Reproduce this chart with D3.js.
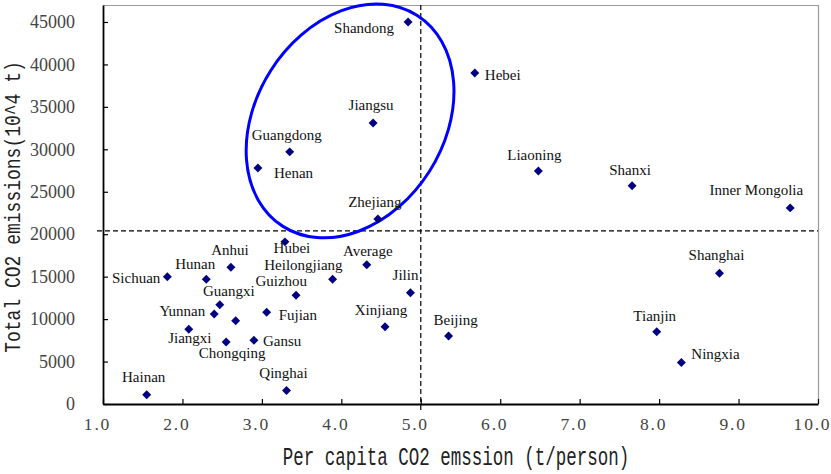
<!DOCTYPE html>
<html>
<head>
<meta charset="utf-8">
<script src="https://cdn.jsdelivr.net/npm/d3@7"></script>
<style>
  html, body { margin: 0; padding: 0; background: #fff; }
  svg { display: block; }
</style>
</head>
<body>
<svg id="chart" width="831" height="474"></svg>
<script>
// Provinces: per capita CO2 emission (t/person) and total CO2 emissions (10^4 t)
const provinces = ["Shandong", "Hebei", "Jiangsu", "Guangdong", "Henan", "Zhejiang",
  "Liaoning", "Shanxi", "Inner Mongolia", "Hubei", "Anhui", "Average", "Hunan",
  "Sichuan", "Heilongjiang", "Jilin", "Guizhou", "Guangxi", "Yunnan", "Shaanxi",
  "Fujian", "Xinjiang", "Jiangxi", "Chongqing", "Gansu", "Hainan", "Qinghai",
  "Beijing", "Tianjin", "Ningxia", "Shanghai"];
const perCapita = [4.84, 5.68, 4.40, 3.35, 2.95, 4.46,
  6.48, 7.66, 9.65, 3.29, 2.61, 4.32, 2.30,
  1.81, 3.89, 4.87, 3.43, 2.47, 2.40, 2.67,
  3.06, 4.55, 2.08, 2.55, 2.90, 1.55, 3.31,
  5.35, 7.97, 8.28, 8.76];
const totalEmission = [45000, 39000, 33100, 29700, 27800, 21800,
  27450, 25700, 23100, 19100, 16100, 16400, 14700,
  15000, 14700, 13100, 12800, 11700, 10600, 9800,
  10800, 9100, 8800, 7300, 7500, 1100, 1600,
  8000, 8500, 4900, 15400];

// Axis ticks
const xTicks = [1, 2, 3, 4, 5, 6, 7, 8, 9, 10];
const yTicks = [0, 5000, 10000, 15000, 20000, 25000, 30000, 35000, 40000, 45000];

// Quadrant reference values
const xRef = 5.0;
const yRef = 20400;

// Highlighted group centre (data units)
const groupCentre = [4.11, 33340];

// Label placement relative to each marker: [dx, dy, anchor]; null = no label
const labelOffsets = {
  "Shandong": [-14, 11, "end"], "Hebei": [10, 7, "start"], "Jiangsu": [-2, -13, "middle"],
  "Guangdong": [-3, -12, "middle"], "Henan": [16, 10, "start"], "Zhejiang": [-3, -12, "middle"],
  "Liaoning": [-4, -11, "middle"], "Shanxi": [-2, -11, "middle"], "Inner Mongolia": [13, -13, "end"],
  "Hubei": [7, 11, "middle"], "Anhui": [-1, -12, "middle"], "Average": [1, -9, "middle"],
  "Hunan": [-11, -10, "middle"], "Sichuan": [-7, 6, "end"], "Heilongjiang": [10, -9, "end"],
  "Jilin": [8, -13, "end"], "Guizhou": [11, -9, "end"], "Guangxi": [9, -9, "middle"],
  "Yunnan": [-9, 2, "end"], "Shaanxi": null, "Fujian": [12, 8, "start"],
  "Xinjiang": [-4, -12, "middle"], "Jiangxi": [1, 14, "middle"], "Chongqing": [6, 16, "middle"],
  "Gansu": [9, 6, "start"], "Hainan": [-3, -13, "middle"], "Qinghai": [-3, -12, "middle"],
  "Beijing": [7, -11, "middle"], "Tianjin": [-2, -11, "middle"], "Ningxia": [10, -3, "start"],
  "Shanghai": [-3, -13, "middle"]
};

const svg = d3.select("#chart");
const plot = { left: 103, right: 818, top: 5, bottom: 404 };

const x = d3.scaleLinear().domain([1, 10]).range([plot.left, plot.right]);
const y = d3.scaleLinear().domain([0, 47000]).range([plot.bottom, plot.top]);

// Frame: light top/right borders
svg.append("line").attr("x1", plot.left).attr("x2", plot.right)
  .attr("y1", plot.top + 0.5).attr("y2", plot.top + 0.5)
  .attr("stroke", "#999").attr("stroke-width", 1.2);
svg.append("line").attr("x1", plot.right + 0.5).attr("x2", plot.right + 0.5)
  .attr("y1", plot.top).attr("y2", plot.bottom)
  .attr("stroke", "#999").attr("stroke-width", 1.2);

// Reference lines
svg.append("line")
  .attr("x1", plot.left - 6).attr("x2", plot.right)
  .attr("y1", y(yRef)).attr("y2", y(yRef))
  .attr("stroke", "#000").attr("stroke-width", 1.2).attr("stroke-dasharray", "5,3");
svg.append("line")
  .attr("x1", x(xRef)).attr("x2", x(xRef))
  .attr("y1", plot.top).attr("y2", plot.bottom + 6)
  .attr("stroke", "#000").attr("stroke-width", 1.2).attr("stroke-dasharray", "5,3");

// Y axis (ticks pointing inward)
const yAxis = d3.axisLeft(y).tickValues(yTicks).tickSizeInner(-5).tickSizeOuter(0)
  .tickPadding(28).tickFormat(d3.format("d"));
const gy = svg.append("g").attr("transform", `translate(${plot.left},0)`).call(yAxis);
gy.select(".domain").attr("stroke", "#000").attr("stroke-width", 1.8);
gy.selectAll(".tick line").attr("stroke", "#000").attr("stroke-width", 1.2);
gy.selectAll(".tick text")
  .attr("font-family", "'Liberation Serif', serif").attr("font-size", 18)
  .attr("fill", "#444");

// X axis (ticks pointing inward)
const xAxis = d3.axisBottom(x).tickValues(xTicks).tickSizeInner(-5).tickSizeOuter(0)
  .tickPadding(14).tickFormat(d3.format(".1f"));
const gx = svg.append("g").attr("transform", `translate(0,${plot.bottom})`).call(xAxis);
gx.select(".domain").attr("stroke", "#000").attr("stroke-width", 1.8);
gx.selectAll(".tick line").attr("stroke", "#000").attr("stroke-width", 1.2);
gx.selectAll(".tick text")
  .attr("font-family", "'Liberation Serif', serif").attr("font-size", 17.5)
  .attr("letter-spacing", "1.8px").attr("dx", -6)
  .attr("fill", "#444");

// Axis titles
svg.append("text")
  .attr("transform", `translate(456,465) scale(1,1.45)`)
  .attr("text-anchor", "middle")
  .attr("font-family", "'Liberation Mono', monospace").attr("font-size", 17.5)
  .attr("fill", "#222")
  .text("Per capita CO2 emssion (t/person)");
svg.append("text")
  .attr("transform", `translate(20,207) rotate(-90) scale(1,1.2)`)
  .attr("text-anchor", "middle")
  .attr("font-family", "'Liberation Mono', monospace").attr("font-size", 18)
  .attr("fill", "#222")
  .text("Total CO2 emissions(10^4 t)");

// Highlight ellipse around the high-emission group
svg.append("ellipse")
  .attr("transform", `translate(${x(groupCentre[0])},${y(groupCentre[1])}) rotate(-57.5)`)
  .attr("rx", 125).attr("ry", 94)
  .attr("fill", "none").attr("stroke", "#0000ff").attr("stroke-width", 3);

// Markers
const points = provinces.map((name, i) => ({ name, px: perCapita[i], total: totalEmission[i] }));
const diamond = d3.symbol().type(d3.symbolSquare).size(40);
svg.append("g").selectAll("path").data(points).join("path")
  .attr("d", diamond)
  .attr("transform", d => `translate(${x(d.px)},${y(d.total)}) rotate(45)`)
  .attr("fill", "#000080");

// Labels
svg.append("g").selectAll("text")
  .data(points.filter(d => labelOffsets[d.name]))
  .join("text")
  .attr("x", d => x(d.px) + labelOffsets[d.name][0])
  .attr("y", d => y(d.total) + labelOffsets[d.name][1])
  .attr("text-anchor", d => labelOffsets[d.name][2])
  .attr("font-family", "'Liberation Serif', 'Times New Roman', serif")
  .attr("font-size", 15)
  .attr("fill", "#111")
  .text(d => d.name);
</script>
</body>
</html>
